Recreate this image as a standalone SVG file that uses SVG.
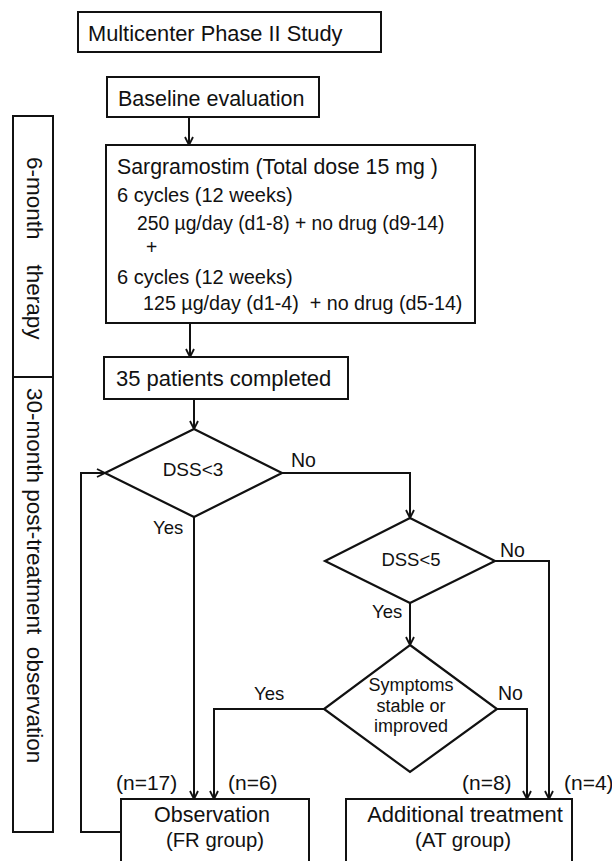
<svg xmlns="http://www.w3.org/2000/svg" width="612" height="861" viewBox="0 0 612 861">
<defs>
<style>
text{font-family:"Liberation Sans",Arial,sans-serif;fill:#111}
.box{fill:#fff;stroke:#111;stroke-width:2}
.dia{fill:#fff;stroke:#111;stroke-width:2.2}
.ln{fill:none;stroke:#111;stroke-width:2}
.t21{font-size:21.5px}
.t19{font-size:19.3px}
.c{text-anchor:middle}
</style>
<marker id="arr" viewBox="0 0 10 10" refX="9" refY="5" markerWidth="10" markerHeight="10" markerUnits="userSpaceOnUse" orient="auto">
<path d="M1,1 L9,5 L1,9" fill="none" stroke="#111" stroke-width="1.8"/>
</marker>
</defs>
<rect width="612" height="861" fill="#fff"/>

<g id="phase-brackets">
<rect class="box" x="13" y="116" width="40" height="261"/>
<rect class="box" x="13" y="377" width="40" height="455"/>
<text class="t21" style="font-size:22.5px" xml:space="preserve" transform="translate(27,157) rotate(90)">6-month    therapy</text>
<text class="t21" style="font-size:22.5px" xml:space="preserve" transform="translate(27,388) rotate(90)">30-month post-treatment  observation</text>
</g>

<g id="connectors">
<line class="ln" x1="189" y1="117" x2="189" y2="145" marker-end="url(#arr)"/>
<line class="ln" x1="190" y1="323" x2="190" y2="357" marker-end="url(#arr)"/>
<line class="ln" x1="194" y1="399" x2="194" y2="429" marker-end="url(#arr)"/>
<polyline class="ln" points="282,473 410,473 410,518" marker-end="url(#arr)"/>
<line class="ln" x1="194" y1="517" x2="194" y2="799" marker-end="url(#arr)"/>
<polyline class="ln" points="495,561 549,561 549,799" marker-end="url(#arr)"/>
<line class="ln" x1="410" y1="603" x2="410" y2="645" marker-end="url(#arr)"/>
<polyline class="ln" points="324,709 214,709 214,799" marker-end="url(#arr)"/>
<polyline class="ln" points="497,709 527,709 527,799" marker-end="url(#arr)"/>
<polyline class="ln" points="121,832 81,832 81,473 105,473" marker-end="url(#arr)"/>
<text class="t21" x="291" y="467" style="font-size:19.5px">No</text>
<text class="t21" x="153" y="534" style="font-size:18.5px">Yes</text>
<text class="t21" x="500" y="557" style="font-size:19.5px">No</text>
<text class="t21" x="372" y="618" style="font-size:18.5px">Yes</text>
<text class="t21" x="254" y="700" style="font-size:18.5px">Yes</text>
<text class="t21" x="498" y="700" style="font-size:19.5px">No</text>
<text class="t21" x="116" y="790" style="font-size:21px">(n=17)</text>
<text class="t21" x="228" y="790" style="font-size:21px">(n=6)</text>
<text class="t21" x="462" y="790" style="font-size:21px">(n=8)</text>
<text class="t21" x="564" y="790" style="font-size:21px">(n=4)</text>
</g>

<g id="study">
<rect class="box" x="78" y="12" width="303" height="40"/>
<text class="t21" x="88" y="41" style="font-size:21.8px">Multicenter Phase II Study</text>
</g>

<g id="baseline">
<rect class="box" x="107" y="77" width="212" height="40"/>
<text class="t21" x="118" y="106">Baseline evaluation</text>
</g>

<g id="sargramostim">
<rect class="box" x="106" y="145" width="369" height="178"/>
<text class="t21" x="117" y="174" style="font-size:21.3px">Sargramostim (Total dose 15 mg )</text>
<text class="t21" x="117" y="202" style="font-size:20px">6 cycles (12 weeks)</text>
<text class="t19" x="137" y="230">250 µg/day (d1-8) + no drug (d9-14)</text>
<text class="t19" x="146" y="254">+</text>
<text class="t21" x="117" y="284" style="font-size:20px">6 cycles (12 weeks)</text>
<text class="t19" x="143" y="310" xml:space="preserve" style="font-size:19.7px">125 µg/day (d1-4)  + no drug (d5-14)</text>
</g>

<g id="completed">
<rect class="box" x="104" y="357" width="244" height="42"/>
<text class="t21" x="116" y="386" style="font-size:22px">35 patients completed</text>
</g>

<g id="dss3">
<polygon class="dia" points="194,429 282,473 194,517 105,473"/>
<text class="t21 c" x="193" y="476" style="font-size:19px">DSS&lt;3</text>
</g>

<g id="dss5">
<polygon class="dia" points="410,518 495,561 410,603 325,561"/>
<text class="t21 c" x="411" y="566" style="font-size:18.5px">DSS&lt;5</text>
</g>

<g id="symptoms">
<polygon class="dia" points="410,645 497,709 410,772 324,709"/>
<text class="t21 c" x="411" y="691" style="font-size:18px">Symptoms</text>
<text class="t21 c" x="411" y="711.5" style="font-size:18px">stable or</text>
<text class="t21 c" x="411" y="732" style="font-size:18px">improved</text>
</g>

<g id="observation">
<rect class="box" x="121" y="799" width="188" height="90"/>
<text class="t21 c" x="212" y="822">Observation</text>
<text class="t21 c" x="215" y="847" style="font-size:20.3px">(FR group)</text>
</g>

<g id="additional">
<rect class="box" x="346" y="799" width="226" height="90"/>
<text class="t21 c" x="465" y="822" style="font-size:22px">Additional treatment</text>
<text class="t21 c" x="463" y="847" style="font-size:20.5px">(AT group)</text>
</g>
</svg>
